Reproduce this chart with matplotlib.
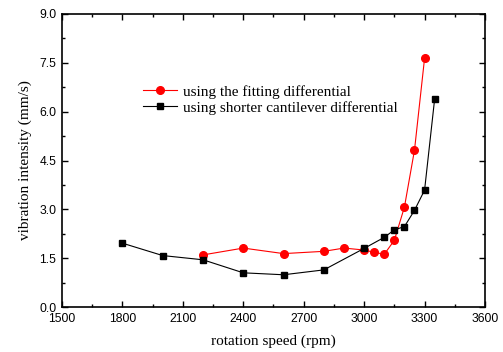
import matplotlib.pyplot as plt
from matplotlib.ticker import MultipleLocator

# fitting differential (red)
speed_fit = [2200, 2400, 2600, 2800, 2900, 3000, 3050, 3100, 3150, 3200, 3250, 3300]
vib_fit = [1.60, 1.81, 1.64, 1.71, 1.81, 1.75, 1.68, 1.62, 2.05, 3.07, 4.82, 7.64]

# shorter cantilever differential (black)
speed_cant = [1800, 2000, 2200, 2400, 2600, 2800, 3000, 3100, 3150, 3200, 3250, 3300, 3350]
vib_cant = [1.96, 1.58, 1.45, 1.05, 0.99, 1.14, 1.80, 2.14, 2.37, 2.47, 2.97, 3.59, 6.39]

serif = ["Liberation Serif", "DejaVu Serif"]
sans = ["Liberation Sans", "DejaVu Sans"]

fig = plt.figure(figsize=(5.03, 3.52), dpi=100)
ax = fig.add_axes([62 / 503, 1 - 307 / 352, 423 / 503, 293 / 352])

ax.plot(speed_fit, vib_fit, color="red", marker="o", markersize=5.5, linewidth=0.8,
        label="using the fitting differential")
ax.plot(speed_cant, vib_cant, color="black", marker="s", markersize=4.8, linewidth=0.8,
        label="using shorter cantilever differential")

ax.set_xlim(1500, 3600)
ax.set_ylim(0, 9)
ax.xaxis.set_major_locator(MultipleLocator(300))
ax.xaxis.set_minor_locator(MultipleLocator(150))
ax.yaxis.set_major_locator(MultipleLocator(1.5))
ax.yaxis.set_minor_locator(MultipleLocator(0.75))
ax.yaxis.set_major_formatter(plt.FormatStrFormatter("%.1f"))

ax.tick_params(which="both", direction="in", top=True, right=True, width=1)
ax.tick_params(which="major", length=4, labelsize=8.7)
ax.tick_params(axis="x", which="major", pad=4.5)
ax.tick_params(axis="y", which="major", pad=4)
ax.tick_params(which="minor", length=2.5)
for lab in ax.get_xticklabels() + ax.get_yticklabels():
    lab.set_family(sans)
for sp in ax.spines.values():
    sp.set_linewidth(1.2)

ax.set_xlabel("rotation speed (rpm)", fontsize=11, family=serif, labelpad=7)
ax.set_ylabel("vibration intensity (mm/s)", fontsize=11, family=serif, labelpad=5)

ax.legend(loc="upper left", bbox_to_anchor=(0.16, 0.805), frameon=False,
          prop={"family": serif, "size": 11}, handlelength=2.2,
          handletextpad=0.4, labelspacing=0.15)

fig.savefig("out.png", dpi=100)
